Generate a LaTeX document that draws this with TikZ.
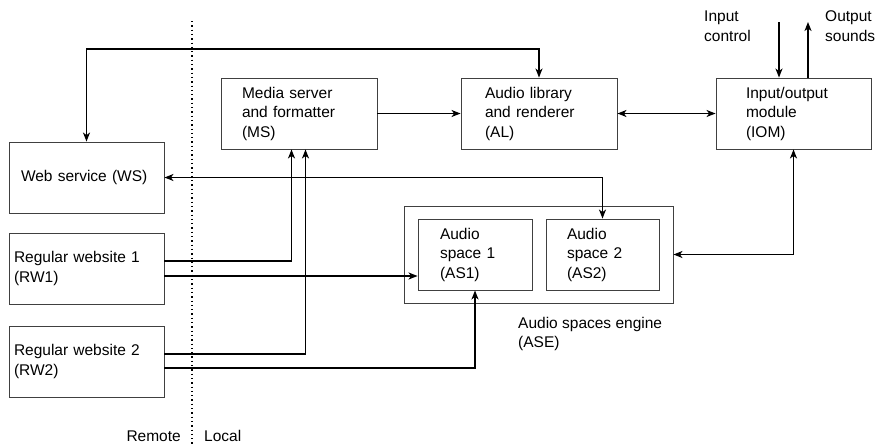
\documentclass[tikz,border=0pt]{standalone}
\usepackage{fontspec}
\setmainfont{Liberation Sans}
\usetikzlibrary{arrows.meta}

\tikzset{
  blok/.style={draw=black!75, line width=0.9pt, align=left, inner sep=0pt,
    minimum height=71pt},
  lbl/.style={align=left, inner sep=0pt},
  conn/.style={line width=1.3pt},
  divider/.style={line width=1.2pt, dash pattern=on 1.3pt off 3pt}
}

\begin{document}
\begin{tikzpicture}[x=1pt, y=-1pt, >={Stealth[length=9pt,width=7pt,inset=2.5pt]},
    font=\fontsize{15.5}{19.5}\selectfont]
    \useasboundingbox (0,0) rectangle (876,445);

    % Division remoto / local
    \coordinate (divtop) at (192,21);
    \coordinate (divbot) at (192,445);
    \draw[divider] (divtop) -- (divbot);
    \node[lbl, anchor=east] (remote) at (181,436) {Remote};
    \node[lbl, anchor=west] (local) at (204,436) {Local};

    % Cajas remotas
    \node[blok, minimum width=155pt, text width=131pt] (ws) at (86.5,177.5) {Web service (WS)};
    \node[blok, minimum width=155pt, text width=145pt] (rw1) at (86.5,268.5) {Regular website 1\\(RW1)};
    \node[blok, minimum width=155pt, text width=145pt] (rw2) at (86.5,361.5) {Regular website 2\\(RW2)};

    % Cajas locales
    \node[blok, minimum width=156pt, text width=114pt] (ms) at (299,113.5) {Media server\\and formatter\\(MS)};
    \node[blok, minimum width=156pt, text width=108pt] (al) at (539,113.5) {Audio library\\and renderer\\(AL)};
    \node[blok, minimum width=155pt, text width=95pt] (iom) at (793.5,113.5) {Input/output\\module\\(IOM)};

    % Motor de espacios
    \node[blok, minimum width=269pt, minimum height=97pt] (ase) at (538.5,254.5) {};
    \node[blok, minimum width=114pt, text width=70pt] (as1) at (475,254.5) {Audio\\space 1\\(AS1)};
    \node[blok, minimum width=113pt, text width=71pt] (as2) at (602.5,254.5) {Audio\\space 2\\(AS2)};
    \node[lbl, anchor=west] (aselbl) at (518,334) {Audio spaces engine\\(ASE)};

    % Entrada y salida
    \coordinate (inctl) at (779,22);
    \coordinate (outsnd) at (808,22);
    \node[lbl, anchor=west] (inlbl) at (704,26) {Input\\control};
    \node[lbl, anchor=west] (outlbl) at (825,26) {Output\\sounds};
    \draw[conn, ->] (inctl) -- (inctl |- iom.north);
    \draw[conn, ->] (outsnd |- iom.north) -- (outsnd);

    % Conexiones
    \coordinate (topline) at (0,49);
    \draw[conn, <->] (ws.north) -- (ws.north |- topline) -| (al.north);
    \draw[conn, ->] (ms.east) -- (al.west);
    \draw[conn, <->] (al.east) -- (iom.west);
    \draw[conn, <->] (ws.east) -| (as2.north);
    \draw[conn, <->] (iom.south) |- (ase.east);

    \coordinate (rw1b) at ([yshift=-7.5pt]rw1.east);
    \draw[conn, ->] ([yshift=7.5pt]rw1.east) -| ([xshift=-7.5pt]ms.south);
    \draw[conn, ->] (rw1b) -- (rw1b -| as1.west);
    \draw[conn, ->] ([yshift=7.5pt]rw2.east) -| ([xshift=6.5pt]ms.south);
    \draw[conn, ->] ([yshift=-6.5pt]rw2.east) -| (as1.south);

  \end{tikzpicture}
\end{document}
